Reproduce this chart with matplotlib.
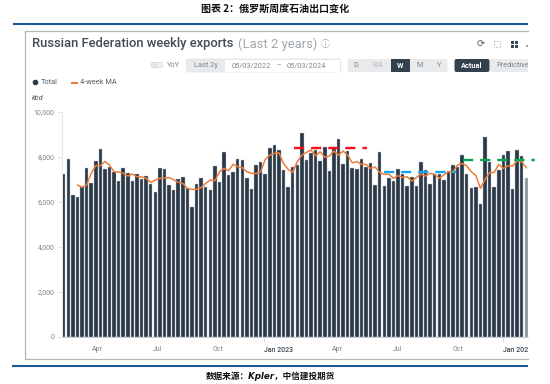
import numpy as np
import pandas as pd
import matplotlib
matplotlib.use("Agg")
import matplotlib.pyplot as plt
from matplotlib.patches import Rectangle, FancyBboxPatch, Circle
from matplotlib.transforms import Bbox

# CHART DATA
first_week = "2022-03-01"
total = [7230, 7880, 6280, 6190, 6650, 7480, 6810, 7790, 8320, 7450, 7560, 7330, 6930, 7480, 7290, 6930,
         7210, 6990, 7160, 6770, 6410, 7510, 7470, 6760, 6500, 6990, 7080, 6590, 5750, 6770, 7050, 6670,
         6535, 7600, 6860, 8190, 7170, 7330, 7880, 7850, 7040, 6560, 7630, 7750, 7250, 8370, 8520, 8280,
         7390, 6640, 7560, 7630, 9070, 7840, 8150, 8300, 7810, 8430, 7360, 8440, 8770, 7660, 8270, 7500,
         7470, 7910, 7560, 7700, 6740, 8190, 6710, 7040, 6900, 7470, 7220, 6680, 7110, 6680, 7750, 7420,
         6770, 7220, 7230, 6980, 7360, 7630, 7530, 8070, 7230, 6620, 6670, 5880, 8860, 7750, 6650, 7410,
         8060, 8250, 6580, 8280, 8030, 7070]
ma_4week = [6740, 6650, 6740, 7260, 7600, 7600, 7790, 7630, 7330, 7320, 7260, 7140, 7230, 7110, 7100, 7040,
            6860, 6960, 7040, 7050, 7070, 6980, 6860, 6820, 6590, 6550, 6550, 6620, 6820, 6960, 6930, 7330,
            7470, 7380, 7660, 7560, 7510, 7330, 7260, 7250, 7330, 7880, 8070, 8150, 8170, 7700, 7440, 7300,
            7780, 8070, 8190, 8300, 8040, 8220, 7970, 8030, 8250, 8070, 8250, 8070, 7730, 7780, 7660, 7660,
            7480, 7540, 7300, 7220, 7220, 7040, 7160, 7080, 7110, 6920, 7070, 7230, 7140, 7260, 7220, 7040,
            7190, 7330, 7330, 7630, 7700, 7590, 7330, 7160, 6590, 6990, 7290, 7300, 7660, 7480, 7590, 7590,
            7820, 7780, 7510]
y_ticks = [0, 2000, 4000, 6000, 8000, 10000]
x_label_dates = ["2022-04-22", "2022-07-23", "2022-10-23", "2023-01-23", "2023-04-24", "2023-07-24", "2023-10-24", "2024-01-23"]
x_labels = ["Apr", "Jul", "Oct", "Jan 2023", "Apr", "Jul", "Oct", "Jan 2024"]
year_starts = ["2023-01-01", "2024-01-01"]
red_level = ["2023-02-16", "2023-06-07", 8400]
blue_level = ["2023-07-03", "2023-10-22", 7330]
green_level = ["2023-11-01", "2024-02-20", 7840]

plt.rcParams["font.family"] = ["Roboto", "Noto Sans CJK SC", "DejaVu Sans"]

W, H = 550, 384
DARK = "#2b3947"
ORANGE = "#ed7d3a"
GREY = "#7d8590"
right_clip = Bbox.from_extents(0, 0, 527.5, H)

fig = plt.figure(figsize=(W / 100, H / 100), dpi=100)

# page and toolbar drawn in pixel coordinates
page = fig.add_axes([0, 0, 1, 1], zorder=0)
page.set_xlim(0, W)
page.set_ylim(H, 0)
page.axis("off")


def label(x, y, s, size=5.3, color=GREY, ha="left", **kw):
    t = page.text(x, y, s, fontsize=size, color=color, ha=ha, va="center", **kw)
    t.set_clip_box(right_clip)
    t.set_clip_on(True)
    return t


def box(x0, y0, x1, y1, color, **kw):
    page.add_patch(Rectangle((x0, y0), x1 - x0, y1 - y0, facecolor=color, edgecolor="none", **kw))


label(275, 9, "图表 2：俄罗斯周度石油出口变化", size=7.2, color="#111111", ha="center", weight="bold", family=["Noto Sans CJK SC", "DejaVu Sans"])
label(270.5, 376, "数据来源：Kpler，中信建投期货", size=6.2, color="#111111", ha="center", weight="bold", style="italic", family=["DejaVu Sans", "Noto Sans CJK SC"])

# blue rules and panel frame
page.plot([13, 527.5], [24, 24], color="#1f5a96", lw=1.5, solid_capstyle="butt")
page.plot([12, 527.5], [366, 366], color="#1f5a96", lw=1.5, solid_capstyle="butt")
page.plot([527.5, 24.5, 24.5, 527.5], [31, 31, 359, 359], color="#b5b5b5", lw=0.9)

# heading
label(32.5, 44, "Russian Federation weekly exports", size=9.4, color="#424c57", weight="medium")
label(238, 44, "(Last 2 years)", size=9.4, color="#a2a8ae")
label(325, 44, "ⓘ", size=6.5, color="#a2a8ae", ha="center", family=["Noto Sans CJK SC", "DejaVu Sans"])

# toolbar icons
label(481, 44, "⟳", size=7, color="#4a5560", ha="center", family=["DejaVu Sans"])
page.add_patch(Rectangle((494, 41), 6, 6, facecolor="none", edgecolor="#9aa2aa", lw=0.7, ls=":"))
for ix in (511, 515):
    for iy in (41, 45):
        box(ix, iy, ix + 3, iy + 3, "#3b4652")
box(526, 45, 527.5, 47, "#9aa2aa")

# controls row
page.add_patch(FancyBboxPatch((151, 62.5), 12, 5, boxstyle="round,pad=0,rounding_size=2.5", facecolor="#eceef0", edgecolor="#d5d8db", lw=0.5))
page.add_patch(Circle((154, 65), 2.8, facecolor="#e6e8ea", edgecolor="#d0d3d6", lw=0.4))
label(167, 65.5, "YoY")
page.add_patch(FancyBboxPatch((186.5, 59), 154, 13, boxstyle="round,pad=0,rounding_size=2", facecolor="#e8eaec", edgecolor="#dde0e3", lw=0.5))
box(225, 59.5, 340, 71.5, "white")
label(206, 65.5, "Last 2y", ha="center")
label(251, 65.5, "05/03/2022", ha="center")
label(279, 65.5, "–", ha="center")
label(306, 65.5, "05/03/2024", ha="center")
page.add_patch(FancyBboxPatch((347.5, 59), 100, 13, boxstyle="round,pad=0,rounding_size=2", facecolor="#e8eaec", edgecolor="none"))
box(391, 59, 410, 72, "#34404e")
label(356, 65.5, "D", ha="center")
label(378, 65.5, "EIA", color="#b4b9be", ha="center")
label(400.5, 65.5, "W", color="white", ha="center", weight="bold")
label(420, 65.5, "M", ha="center")
label(439, 65.5, "Y", ha="center")
box(490, 59, 527.5, 72, "#e8eaec")
page.add_patch(FancyBboxPatch((454.5, 59), 35, 13, boxstyle="round,pad=0,rounding_size=2", facecolor="#34404e", edgecolor="none"))
label(472, 65.5, "Actual", color="white", ha="center", weight="bold")
label(496, 65.5, "Predictive")

# legend
page.add_patch(Circle((35.5, 82.5), 2.8, facecolor=DARK, edgecolor="none"))
label(41, 82.5, "Total", color="#56606a")
page.plot([71, 78], [82.5, 82.5], color="#ee6a1f", lw=1.3, solid_capstyle="butt")
label(80, 82.5, "4-week MA", color="#56606a")
label(32, 98.5, "kbd", color="#56606a", style="italic")

# BAR CHART
dates = pd.date_range(first_week, periods=len(total), freq="7D")
ma_dates = dates[len(dates) - len(ma_4week):]
px_per_week = 4.58

ax = fig.add_axes([61.7 / W, 1 - 336.7 / H, (527.5 - 61.7) / W, 225 / H], zorder=1)
ax.patch.set_alpha(0)
bar_colors = [DARK] * (len(total) - 1) + ["#8f979e"]
ax.bar(dates, total, width=0.76 * 7, color=bar_colors, edgecolor="#bcc4cc", linewidth=0.3)
ax.plot(ma_dates, ma_4week, color=ORANGE, lw=1.1, solid_joinstyle="round", zorder=3)

# hand-drawn level marks of the report sit over the chart
for level, col in ((red_level, "#f5101c"), (blue_level, "#16a6ee"), (green_level, "#05a850")):
    ax.plot(pd.to_datetime(level[:2]), [level[2], level[2]], color=col, lw=1.7,
            linestyle=(0, (4.3, 2.95)), dash_capstyle="butt", clip_on=False, zorder=4)

d0 = matplotlib.dates.date2num(dates[0])
ax.set_xlim(d0 - 2 / px_per_week * 7, d0 + (527.5 - 63.7) / px_per_week * 7)
ax.set_ylim(0, 10000)

ax.set_yticks(y_ticks)
ax.set_yticklabels([f"{v:,}" for v in y_ticks], fontsize=5, color=GREY)
ax.tick_params(axis="y", length=3.5, width=0.5, color="#d8dadd", pad=1.6)

ax.set_xticks(pd.to_datetime(x_label_dates))
ax.set_xticklabels(x_labels, fontsize=5, color=GREY)
ax.set_xticks(pd.to_datetime(year_starts), minor=True)
ax.tick_params(axis="x", which="major", length=0, pad=6.5)
ax.tick_params(axis="x", which="minor", length=3.5, width=0.5, color="#c8ccd0")
for lab in ax.get_xticklabels():
    if "Jan" in lab.get_text():
        lab.set_color("#3e4852")
        lab.set_fontweight("medium")
    lab.set_clip_box(right_clip)
    lab.set_clip_on(True)

for side in ("top", "right"):
    ax.spines[side].set_visible(False)
ax.spines["left"].set_color("#e6e7e9")
ax.spines["left"].set_linewidth(0.8)
ax.spines["bottom"].set_color("#bfc5cb")
ax.spines["bottom"].set_linewidth(0.6)

fig.savefig("out.png", dpi=100)
